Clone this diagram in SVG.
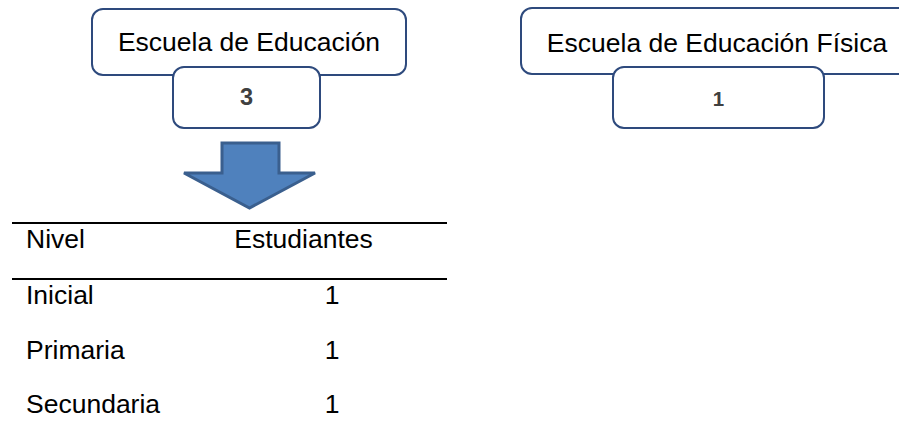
<svg xmlns="http://www.w3.org/2000/svg" width="899" height="441" viewBox="0 0 899 441">
<style>
.box{fill:#fff;stroke:#2E4A7D;stroke-width:2}
.t{font-family:"Liberation Sans",Arial,sans-serif;font-size:26.5px;fill:#000}
.n{font-family:"Liberation Sans",Arial,sans-serif;font-weight:bold;fill:#404040;text-anchor:middle}
.rule{stroke:#000;stroke-width:2}
</style>
<rect width="899" height="441" fill="#fff"/>
<g id="escuela-educacion">
<rect class="box" x="92" y="9" width="314" height="66" rx="11"/>
<text class="t" x="249" y="51" text-anchor="middle">Escuela de Educación</text>
</g>
<g id="count-3">
<rect class="box" x="173" y="67" width="147" height="61" rx="11"/>
<text class="n" x="246.5" y="105" font-size="23.5">3</text>
</g>
<g id="escuela-fisica">
<rect class="box" x="521" y="8" width="392" height="66" rx="11"/>
<text class="t" x="717" y="52" text-anchor="middle">Escuela de Educación Física</text>
</g>
<g id="count-1">
<rect class="box" x="613" y="67" width="211" height="61" rx="11"/>
<text class="n" x="718.5" y="106" font-size="20.5">1</text>
</g>
<g id="connectors">
<polygon points="222,143 279,143 279,173 315,173 249.5,208 184,173 222,173" fill="#4F81BD" stroke="#3A5F8E" stroke-width="3" stroke-linejoin="miter"/>
</g>
<g id="table">
<line class="rule" x1="12" y1="223" x2="447" y2="223"/>
<line class="rule" x1="12" y1="279" x2="447" y2="279"/>
<text class="t" x="26" y="248">Nivel</text>
<text class="t" x="303.5" y="248" text-anchor="middle">Estudiantes</text>
<text class="t" x="26" y="304">Inicial</text>
<text class="t" x="332" y="304" text-anchor="middle">1</text>
<text class="t" x="26" y="359">Primaria</text>
<text class="t" x="332" y="359" text-anchor="middle">1</text>
<text class="t" x="26" y="413">Secundaria</text>
<text class="t" x="332" y="413" text-anchor="middle">1</text>
</g>
</svg>
